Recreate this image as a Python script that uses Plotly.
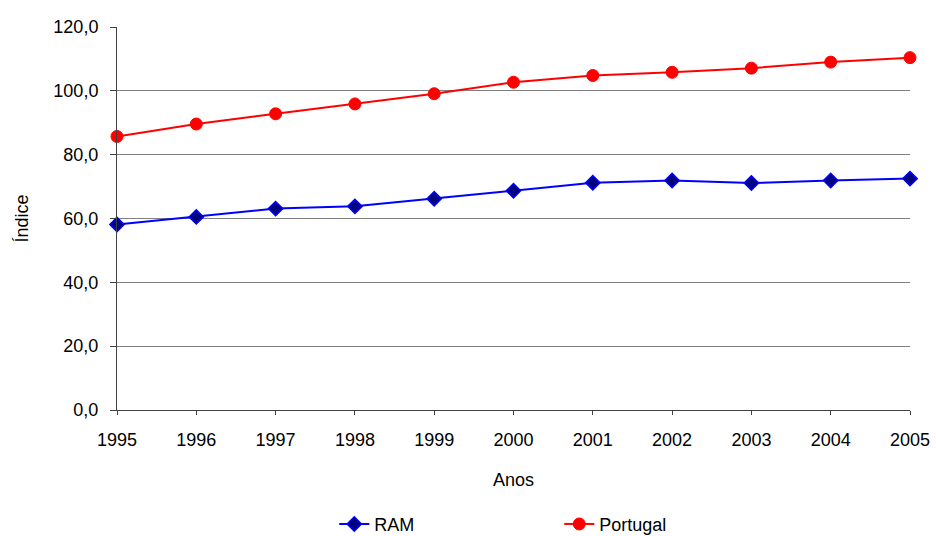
import plotly.graph_objects as go

anos = [1995, 1996, 1997, 1998, 1999, 2000, 2001, 2002, 2003, 2004, 2005]
ram = [58.1, 60.5, 63.1, 63.8, 66.2, 68.7, 71.2, 71.9, 71.1, 71.9, 72.5]
portugal = [85.7, 89.6, 92.8, 95.9, 99.1, 102.7, 104.8, 105.8, 107.1, 109.0, 110.4]
y_ticks = [0, 20, 40, 60, 80, 100, 120]

font = "Liberation Sans, Arial, sans-serif"
axis_col = "#404040"

fig = go.Figure()
fig.add_trace(go.Scatter(
    x=anos, y=ram, name="RAM", mode="lines+markers",
    line=dict(color="#0000FF", width=2),
    marker=dict(symbol="diamond", size=11, color="#000080",
                line=dict(color="#0000FF", width=1.5)),
    cliponaxis=False,
))
fig.add_trace(go.Scatter(
    x=anos, y=portugal, name="Portugal", mode="lines+markers",
    line=dict(color="#FF0000", width=2),
    marker=dict(symbol="circle", size=12, color="#FF0000",
                line=dict(color="#FF0000", width=1)),
    cliponaxis=False,
))

fig.update_layout(
    width=936, height=536,
    margin=dict(l=117, r=26, t=27, b=126, autoexpand=False),
    paper_bgcolor="white", plot_bgcolor="white",
    font=dict(family=font, size=18, color="black"),
    separators=",.",
    showlegend=True,
    legend=dict(orientation="h", x=0.274, xanchor="left", y=-0.25, yanchor="top",
                entrywidth=180, entrywidthmode="pixels",
                font=dict(size=18), itemwidth=30),
)
fig.update_xaxes(
    range=[1995, 2005], tickvals=anos, ticktext=[str(a) for a in anos],
    showgrid=False, showline=True, linecolor=axis_col, linewidth=1,
    ticks="outside", ticklen=4, tickcolor=axis_col,
    ticklabelstandoff=9,
    title=dict(text="Anos", standoff=24, font=dict(size=18)),
    zeroline=False, automargin=False,
)
fig.update_yaxes(
    range=[0, 120], tickvals=y_ticks, tickformat=".1f",
    showgrid=True, gridcolor="#808080", gridwidth=1,
    showline=True, linecolor=axis_col, linewidth=1,
    ticks="outside", ticklen=6, tickcolor=axis_col,
    ticklabelstandoff=8,
    title=dict(text="Índice", standoff=20, font=dict(size=18)),
    zeroline=False, automargin=False,
)

fig.write_html("out.html", config={"displayModeBar": False},
               post_script="document.body.style.margin='0';")
